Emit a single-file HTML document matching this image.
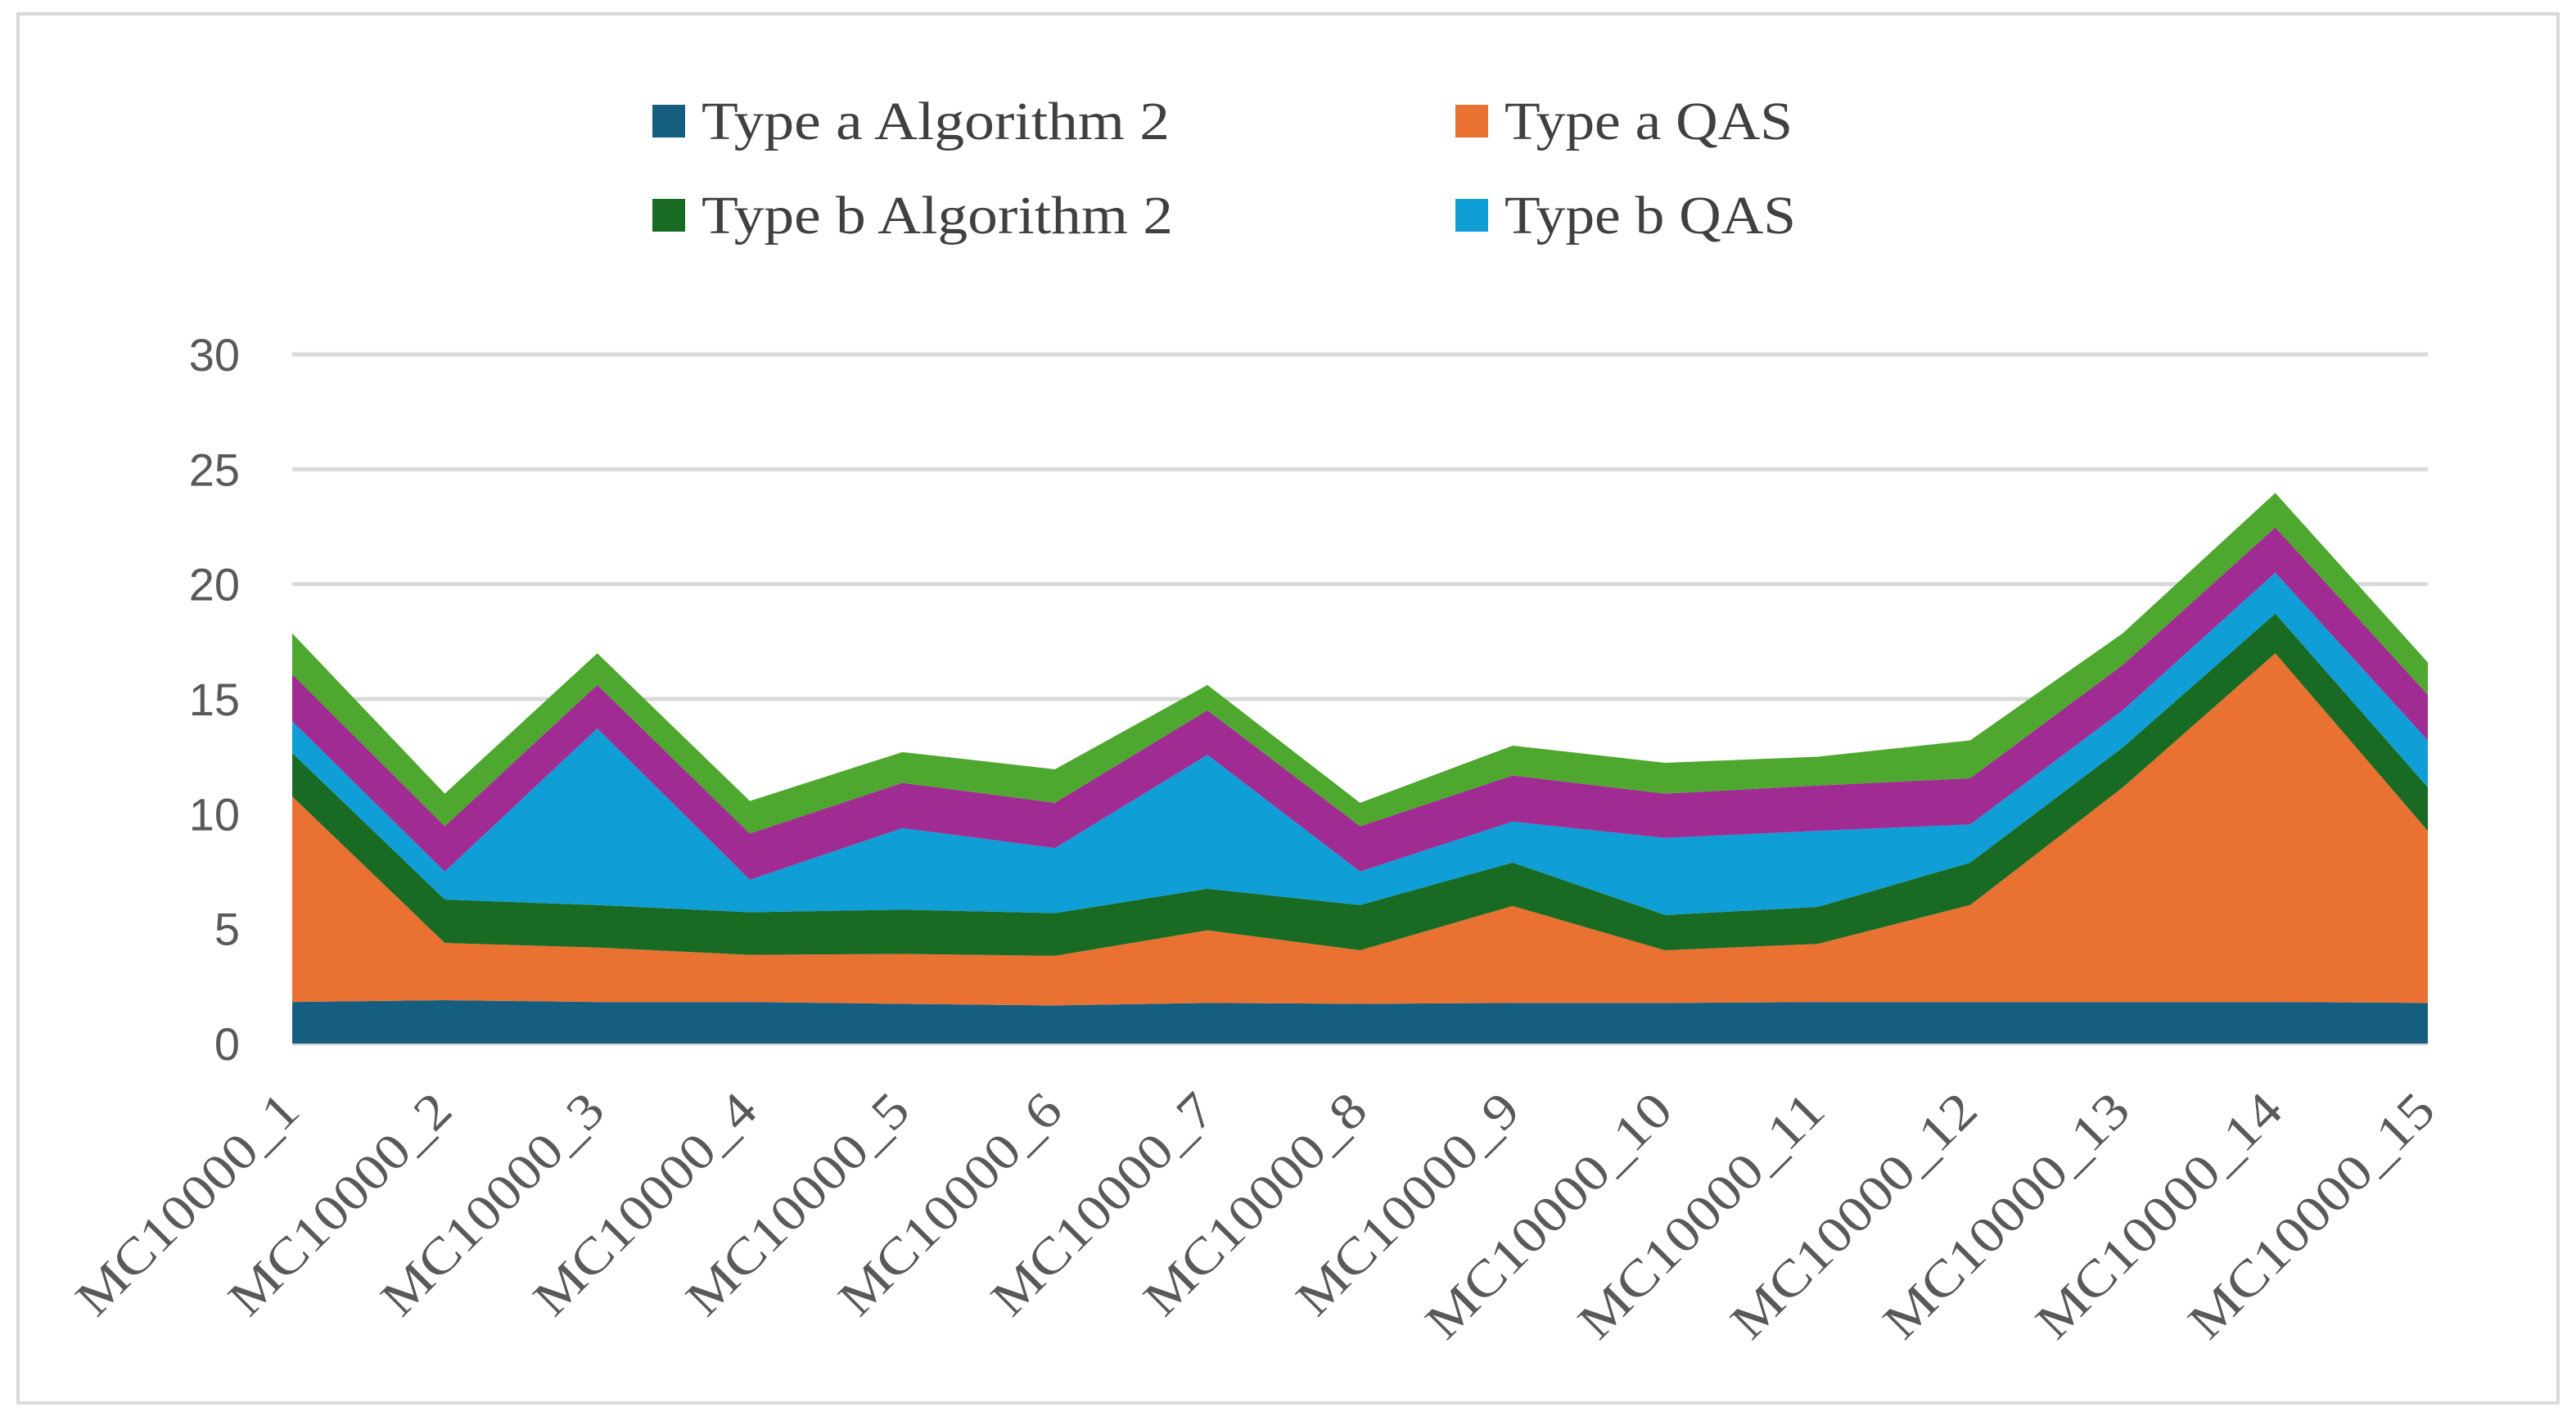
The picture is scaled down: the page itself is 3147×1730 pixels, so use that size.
<!DOCTYPE html>
<html><head><meta charset="utf-8">
<style>
html,body{margin:0;padding:0;background:#fff;}
svg{display:block;}
</style></head>
<body>
<svg id="chart" width="3147" height="1730" viewBox="0 0 3147 1730" xmlns="http://www.w3.org/2000/svg">
<rect x="22" y="17" width="3103" height="1697" fill="#fff" stroke="#d9d9d9" stroke-width="4"/>
<g id="legend" font-family="'Liberation Serif', serif" font-size="66" fill="#404040">
  <g>
    <rect x="797" y="128" width="40" height="40" fill="#155e7f"/>
    <text x="857" y="170" textLength="572" lengthAdjust="spacingAndGlyphs">Type a Algorithm 2</text>
  </g>
  <g>
    <rect x="1778" y="128" width="40" height="40" fill="#e97132"/>
    <text x="1838" y="170" textLength="352" lengthAdjust="spacingAndGlyphs">Type a QAS</text>
  </g>
  <g>
    <rect x="797" y="243" width="40" height="40" fill="#196b24"/>
    <text x="857" y="285" textLength="576" lengthAdjust="spacingAndGlyphs">Type b Algorithm 2</text>
  </g>
  <g>
    <rect x="1778" y="243" width="40" height="40" fill="#0f9ed5"/>
    <text x="1838" y="285" textLength="356" lengthAdjust="spacingAndGlyphs">Type b QAS</text>
  </g>
</g>
<g id="grid"></g>
<g id="areas"></g>
<g id="yaxis"></g>
<g id="xaxis"></g>
</svg>
<script>
const categories = ["MC10000_1","MC10000_2","MC10000_3","MC10000_4","MC10000_5","MC10000_6","MC10000_7","MC10000_8","MC10000_9","MC10000_10","MC10000_11","MC10000_12","MC10000_13","MC10000_14","MC10000_15"];
const typeAAlg2 = [1.81,1.89,1.81,1.81,1.73,1.66,1.77,1.73,1.77,1.77,1.81,1.81,1.81,1.81,1.77];
const typeAQAS  = [8.95,2.49,2.37,2.05,2.17,2.16,3.16,2.33,4.22,2.29,2.53,4.22,9.34,15.18,7.49];
const typeBAlg2 = [1.89,1.89,1.85,1.86,1.93,1.86,1.81,1.97,1.89,1.54,1.61,1.85,1.74,1.73,1.89];
const typeBQAS  = [1.38,1.22,7.69,1.41,3.55,2.83,5.83,1.46,1.78,3.35,3.31,1.66,1.62,1.78,2.05];
const series5   = [2.05,1.97,1.89,2.01,1.97,1.97,1.94,1.97,2.01,1.93,1.97,2.01,1.97,1.97,1.98];
const series6   = [1.78,1.42,1.38,1.42,1.34,1.46,1.10,1.02,1.30,1.34,1.26,1.65,1.38,1.50,1.41];
const seriesColors = ["#155e7f","#e97132","#196b24","#0f9ed5","#a02b93","#4ea72e"];
const seriesNames = ["type-a-algorithm-2","type-a-qas","type-b-algorithm-2","type-b-qas","series-5","series-6"];
const yTicks = [0,5,10,15,20,25,30];

const NS = "http://www.w3.org/2000/svg";
const x0 = 357, x1 = 2966, yTop = 433, yBot = 1275, yMax = 30;
function xScale(i){ return x0 + i*(x1-x0)/(categories.length-1); }
function yScale(v){ return yBot - v*(yBot-yTop)/yMax; }

const grid = document.getElementById('grid');
const yaxis = document.getElementById('yaxis');
yTicks.forEach(t=>{
  const l = document.createElementNS(NS,'line');
  
  
  l.setAttribute('x1',x0); l.setAttribute('x2',x1);
  l.setAttribute('y1',yScale(t)); l.setAttribute('y2',yScale(t));
  l.setAttribute('stroke','#d9d9d9'); l.setAttribute('stroke-width','5');
  grid.appendChild(l);
  const tx = document.createElementNS(NS,'text');
  
  
  tx.setAttribute('x',293); tx.setAttribute('y',yScale(t)+20);
  tx.setAttribute('text-anchor','end');
  tx.setAttribute('font-family',"'Liberation Sans', sans-serif");
  tx.setAttribute('font-size','56');
  tx.setAttribute('fill','#595959');
  tx.textContent = t;
  yaxis.appendChild(tx);
});

const all = [typeAAlg2,typeAQAS,typeBAlg2,typeBQAS,series5,series6];
const areas = document.getElementById('areas');
let base = categories.map(()=>0);
all.forEach((s,k)=>{
  const top = base.map((b,i)=>b+s[i]);
  let d = '';
  top.forEach((v,i)=>{ d += (i?'L':'M')+xScale(i)+','+yScale(v); });
  for(let i=base.length-1;i>=0;i--){ d += 'L'+xScale(i)+','+yScale(base[i]); }
  d += 'Z';
  const p = document.createElementNS(NS,'path');
  
  
  p.setAttribute('d',d);
  p.setAttribute('fill',seriesColors[k]);
  areas.appendChild(p);
  base = top;
});

const xaxis = document.getElementById('xaxis');
categories.forEach((c,i)=>{
  const tx = document.createElementNS(NS,'text');
  
  
  const ax = xScale(i)+12, ay = 1360;
  tx.setAttribute('x',ax); tx.setAttribute('y',ay);
  tx.setAttribute('text-anchor','end');
  tx.setAttribute('transform','rotate(-45 '+ax+' '+ay+')');
  tx.setAttribute('font-family',"'Liberation Serif', serif");
  tx.setAttribute('font-size','62');
  tx.setAttribute('fill','#595959');
  tx.setAttribute('textLength', c.length > 9 ? '395' : '355');
  tx.setAttribute('lengthAdjust','spacingAndGlyphs');
  tx.textContent = c;
  xaxis.appendChild(tx);
});
</script>
</body></html>
